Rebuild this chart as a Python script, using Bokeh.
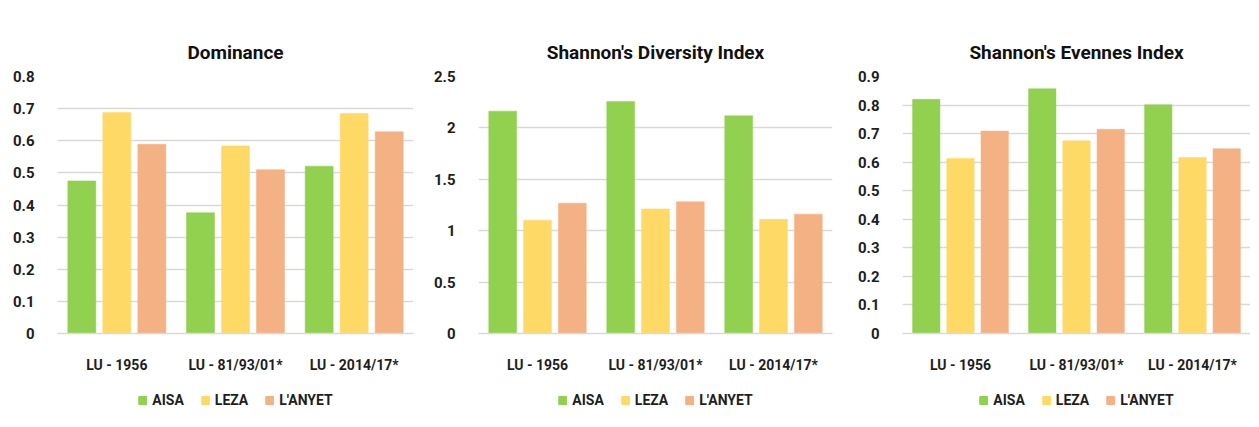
from bokeh.plotting import figure
from bokeh.layouts import row, column
from bokeh.models import Legend, LegendItem, Range1d, FixedTicker, ColumnDataSource
from bokeh.transform import dodge
from bokeh.embed import file_html
from bokeh.resources import INLINE

categories = ["LU - 1956", "LU - 81/93/01*", "LU - 2014/17*"]
series = ["AISA", "LEZA", "L'ANYET"]
colors = ["#92D050", "#FFD966", "#F4B183"]

dominance_aisa = [0.475, 0.376, 0.521]
dominance_leza = [0.688, 0.584, 0.685]
dominance_lanyet = [0.589, 0.510, 0.628]

diversity_aisa = [2.163, 2.257, 2.118]
diversity_leza = [1.102, 1.212, 1.111]
diversity_lanyet = [1.268, 1.281, 1.161]

evenness_aisa = [0.820, 0.857, 0.801]
evenness_leza = [0.613, 0.675, 0.616]
evenness_lanyet = [0.709, 0.715, 0.647]

dominance_ticks = [0, 0.1, 0.2, 0.3, 0.4, 0.5, 0.6, 0.7, 0.8]
dominance_tick_labels = ["0", "0.1", "0.2", "0.3", "0.4", "0.5", "0.6", "0.7", "0.8"]
diversity_ticks = [0, 0.5, 1, 1.5, 2, 2.5]
diversity_tick_labels = ["0", "0.5", "1", "1.5", "2", "2.5"]
evenness_ticks = [0, 0.1, 0.2, 0.3, 0.4, 0.5, 0.6, 0.7, 0.8, 0.9]
evenness_tick_labels = ["0", "0.1", "0.2", "0.3", "0.4", "0.5", "0.6", "0.7", "0.8", "0.9"]

FONT = "Roboto"
TEXT = "#1e1e1e"
GRID = "#d9d9d9"
OFFSETS = [-0.295, 0.0, 0.295]
KEYS = ["a", "b", "c"]


def make_panel(title, values, ticks, tick_labels, ymax, width, border_l, border_r):
    src = ColumnDataSource(dict(cat=categories, a=values[0], b=values[1], c=values[2]))

    p = figure(x_range=categories, y_range=Range1d(0, ymax), width=width, height=375,
               output_backend="svg", toolbar_location=None,
               min_border_left=border_l, min_border_right=border_r,
               min_border_top=76, min_border_bottom=36)
    p.title.text = title
    p.title.align = "center"
    p.title.text_font = FONT
    p.title.text_font_size = "19px"
    p.title.text_font_style = "bold"
    p.title.text_color = "#111111"
    p.title.standoff = 26
    p.outline_line_color = None

    for i, key in enumerate(KEYS):
        p.vbar(x=dodge("cat", OFFSETS[i], range=p.x_range), top=key, width=0.236,
               source=src, fill_color=colors[i], line_color=colors[i], line_width=0.5)

    p.xgrid.grid_line_color = None
    p.ygrid.grid_line_color = GRID
    p.ygrid.grid_line_width = 1.5
    p.yaxis.ticker = FixedTicker(ticks=ticks)
    p.yaxis.major_label_overrides = {t: l for t, l in zip(ticks, tick_labels)}
    p.yaxis.axis_line_color = None
    p.yaxis.major_tick_line_color = None
    p.yaxis.minor_tick_line_color = None
    p.yaxis.major_label_standoff = 17
    p.yaxis.major_label_text_font_size = "15px"
    p.xaxis.axis_line_color = GRID
    p.xaxis.axis_line_width = 1.5
    p.xaxis.major_tick_line_color = None
    p.xaxis.minor_tick_line_color = None
    p.xaxis.major_label_standoff = 17
    p.xaxis.major_label_text_font_size = "14px"
    for ax in (p.xaxis, p.yaxis):
        ax.major_label_text_font = FONT
        ax.major_label_text_font_style = "bold"
        ax.major_label_text_color = TEXT

    # legend strip underneath the chart
    lp = figure(x_range=categories, y_range=Range1d(10, 11), width=width, height=35,
                output_backend="svg", toolbar_location=None,
                x_axis_location=None, y_axis_location=None,
                min_border_left=0, min_border_right=0, min_border_top=0, min_border_bottom=0)
    lp.outline_line_color = None
    lp.xgrid.grid_line_color = None
    lp.ygrid.grid_line_color = None
    items = []
    for i, key in enumerate(KEYS):
        r = lp.vbar(x=dodge("cat", OFFSETS[i], range=lp.x_range), top=key, width=0.236,
                    source=src, fill_color=colors[i], line_color=colors[i])
        items.append(LegendItem(label=series[i], renderers=[r]))
    legend = Legend(items=items, orientation="horizontal", location="bottom_center",
                    border_line_color=None, background_fill_alpha=0,
                    glyph_width=10, glyph_height=10, label_standoff=5, spacing=16,
                    label_height=16, padding=2, margin=2,
                    label_text_font=FONT, label_text_font_size="14px",
                    label_text_font_style="bold", label_text_color=TEXT)
    lp.add_layout(legend)
    return column(p, lp, spacing=0)


c1 = make_panel("Dominance", [dominance_aisa, dominance_leza, dominance_lanyet],
                dominance_ticks, dominance_tick_labels, 0.8, 430, 57, 17)
c2 = make_panel("Shannon's Diversity Index", [diversity_aisa, diversity_leza, diversity_lanyet],
                diversity_ticks, diversity_tick_labels, 2.5, 422, 47, 20)
c3 = make_panel("Shannon's Evennes Index", [evenness_aisa, evenness_leza, evenness_lanyet],
                evenness_ticks, evenness_tick_labels, 0.9, 398, 50, 0)

layout = row(c1, c2, c3, spacing=0)
open("out.html", "w").write(file_html(layout, INLINE))
